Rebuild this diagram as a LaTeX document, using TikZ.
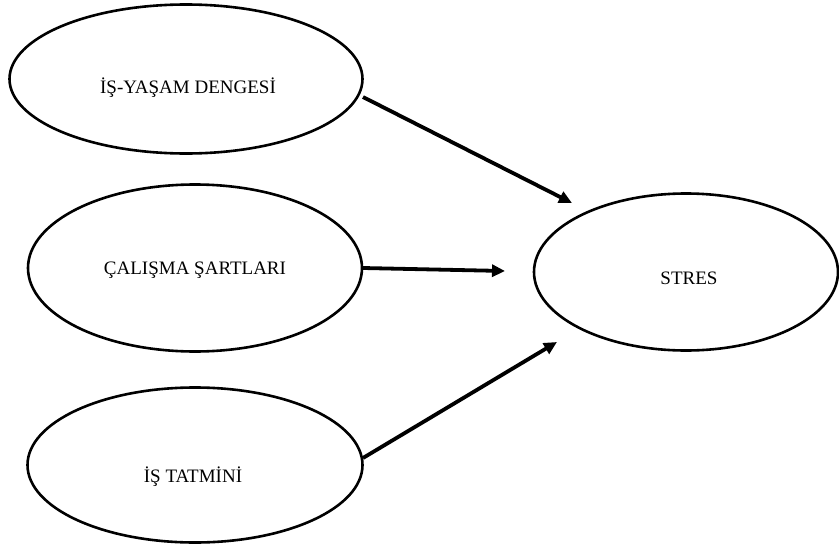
\documentclass[tikz,border=0pt]{standalone}
\usepackage{fontspec}
\setmainfont{Liberation Serif}
\usetikzlibrary{shapes.geometric,arrows.meta}
\begin{document}
\begin{tikzpicture}[x=1pt,y=-1pt,
  oval/.style={draw,ellipse,line width=2.6pt,inner sep=0pt},
  lbl/.style={font=\fontsize{19}{22}\selectfont,inner sep=0pt},
  conn/.style={line width=3.8pt,-{Triangle[length=13pt,width=12pt]}}]
\useasboundingbox (0,0) rectangle (839,549);
\node[oval,minimum width=353pt,minimum height=149pt] (e1) at (186,79) {};
\node[oval,minimum width=334pt,minimum height=167pt] (e2) at (195,268) {};
\node[oval,minimum width=335pt,minimum height=155pt] (e3) at (195,465) {};
\node[oval,minimum width=304pt,minimum height=157pt] (e4) at (686,272) {};
\node[lbl] (t1) at (188,88) {İŞ-YAŞAM DENGESİ};
\node[lbl] (t2) at (195,270) {ÇALIŞMA ŞARTLARI};
\node[lbl] (t3) at (193,477) {İŞ TATMİNİ};
\node[lbl] (t4) at (689,278) {STRES};
\coordinate (s1) at (363,97);
\coordinate (s2) at (363,268);
\coordinate (s3) at (363,458);
\coordinate (p1) at (572,203);
\coordinate (p2) at (505,271);
\coordinate (p3) at (557,342);
\draw[conn] (s1) -- (p1);
\draw[conn] (s2) -- (p2);
\draw[conn] (s3) -- (p3);
\end{tikzpicture}
\end{document}
